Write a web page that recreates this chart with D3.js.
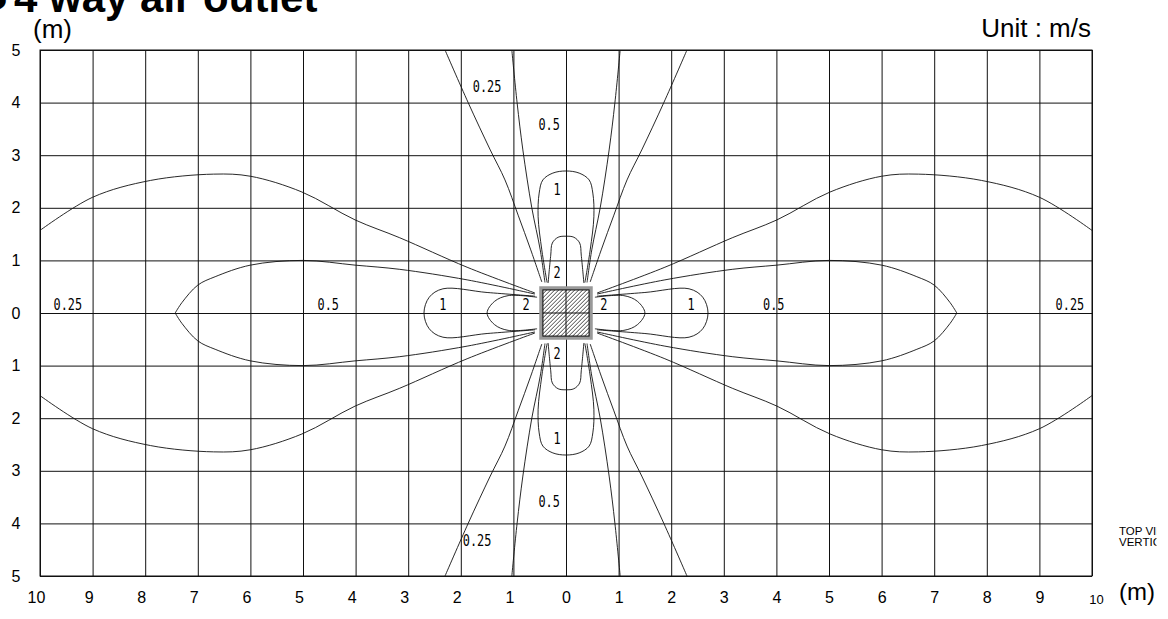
<!DOCTYPE html>
<html>
<head>
<meta charset="utf-8">
<script src="https://cdn.jsdelivr.net/npm/d3@7"></script>
<style>
  body { margin: 0; background: #fff; }
  svg { display: block; }
  .lbl { font-family: "DejaVu Sans Mono", monospace; font-size: 16.5px; fill: #000; }
</style>
</head>
<body>
<div id="chart"></div>
<script>
// grid ticks (metres from the unit)
const xTicks = [-10, -9, -8, -7, -6, -5, -4, -3, -2, -1, 0, 1, 2, 3, 4, 5, 6, 7, 8, 9, 10];
const yTicks = [-5, -4, -3, -2, -1, 0, 1, 2, 3, 4, 5];

// contour halves, upper-left quadrant, [x m, y m], mirrored for the other quadrants
// horizontal lobes: from box side outwards to the tip
const h2 = [[-0.55, 0.30], [-1.1, 0.33], [-1.36, 0.22], [-1.5, 0]];
const h1 = [[-0.59, 0.32], [-1.5, 0.39], [-2.34, 0.46], [-2.6, 0.30], [-2.7, 0]];
const h05 = [[-0.59, 0.36], [-1.88, 0.63], [-3.16, 0.83], [-4.01, 0.91], [-5.0, 1.0], [-6.0, 0.91], [-6.67, 0.69], [-7.0, 0.53], [-7.3, 0.2], [-7.43, 0]];
const h025 = [[-0.59, 0.38], [-1.88, 0.87], [-3.16, 1.43], [-4.01, 1.77], [-5.02, 2.30], [-6.0, 2.6], [-6.7, 2.64], [-7.9, 2.52], [-9.0, 2.2], [-10, 1.57]];
// vertical lobes: from box top upwards
const v2 = [[-0.34, 0.57], [-0.29, 1.1], [-0.26, 1.33], [-0.15, 1.44], [0, 1.46]];
const v1 = [[-0.36, 0.58], [-0.46, 1.2], [-0.53, 1.83], [-0.51, 2.28], [-0.44, 2.53], [-0.25, 2.66], [0, 2.70]];
const v05 = [[-0.40, 0.58], [-0.49, 1.2], [-0.65, 2.0], [-0.82, 3.1], [-0.93, 4.0], [-1.03, 5.0]];
const v025 = [[-0.46, 0.59], [-0.67, 1.2], [-0.91, 1.86], [-1.16, 2.53], [-1.44, 3.1], [-1.86, 4.0], [-2.30, 5.0]];

// velocity labels
const labels = [
  { t: "0.25", x: -1.50, y: 4.32 }, { t: "0.5", x: -0.32, y: 3.59 },
  { t: "1", x: -0.17, y: 2.36 }, { t: "2", x: -0.17, y: 0.78 },
  { t: "2", x: -0.17, y: -0.76 }, { t: "1", x: -0.17, y: -2.38 },
  { t: "0.5", x: -0.32, y: -3.57 }, { t: "0.25", x: -1.69, y: -4.32 },
  { t: "0.25", x: -9.47, y: 0.17 }, { t: "0.5", x: -4.52, y: 0.17 },
  { t: "1", x: -2.34, y: 0.17 }, { t: "2", x: -0.76, y: 0.17 },
  { t: "2", x: 0.72, y: 0.17 }, { t: "1", x: 2.38, y: 0.17 },
  { t: "0.5", x: 3.95, y: 0.17 }, { t: "0.25", x: 9.58, y: 0.17 }
];
const boxHalf = 0.48, boxInner = 0.44;

const W = 1168, H = 619;
const FONT = "Liberation Sans, Arial, sans-serif";
const svg = d3.select("#chart").append("svg").attr("width", W).attr("height", H);

const x = d3.scaleLinear().domain([-10, 10]).range([40, 1092]);
const y = d3.scaleLinear().domain([-5, 5]).range([576, 50]);

// title, cut by the top edge
svg.append("text").attr("x", -15).attr("y", 12)
  .style("font-family", FONT).style("font-weight", "bold").style("font-size", "40px")
  .text("\u25CF");
svg.append("text").attr("x", 14).attr("y", 12)
  .style("font-family", FONT).style("font-weight", "bold").style("font-size", "42px")
  .text("4 way air outlet");

svg.append("text").attr("x", 33).attr("y", 38)
  .style("font-family", FONT).style("font-size", "26px").text("(m)");
svg.append("text").attr("x", 1091).attr("y", 37).attr("text-anchor", "end")
  .style("font-family", FONT).style("font-size", "26px").text("Unit : m/s");
svg.append("text").attr("x", 1119).attr("y", 600)
  .style("font-family", FONT).style("font-size", "24px").text("(m)");

svg.append("clipPath").attr("id", "sideclip").append("rect").attr("x", 1100).attr("y", 500).attr("width", 56.5).attr("height", 80);
const side = svg.append("g").attr("clip-path", "url(#sideclip)")
  .style("font-family", FONT).style("font-size", "11.5px");
side.append("text").attr("x", 1119).attr("y", 535).text("TOP VIEW");
side.append("text").attr("x", 1119).attr("y", 546).text("VERTICAL");

// grid via axes
const gx = svg.append("g").attr("transform", `translate(0,${y(-5)})`)
  .call(d3.axisBottom(x).tickValues(xTicks).tickSize(-(y(-5) - y(5))).tickPadding(16)
    .tickFormat(d => Math.abs(d)));
const gy = svg.append("g").attr("transform", `translate(${x(-10)},0)`)
  .call(d3.axisLeft(y).tickValues(yTicks).tickSize(-(x(10) - x(-10))).tickPadding(24)
    .tickFormat(d => Math.abs(d)));
[gx, gy].forEach(g => {
  g.select(".domain").remove();
  g.selectAll(".tick line").attr("stroke", "#111").attr("stroke-width", 1);
  g.selectAll(".tick text").style("font-family", FONT).style("font-size", "16px").attr("fill", "#000");
});
gy.selectAll(".tick text").attr("text-anchor", "middle");
gx.selectAll(".tick text").attr("dx", d => d < 0 ? -4 : 0);
gx.selectAll(".tick text").filter(d => d === 10).style("font-size", "13px").attr("dx", 4).attr("dy", "0.95em");

svg.append("rect").attr("x", x(-10)).attr("y", y(5))
  .attr("width", x(10) - x(-10)).attr("height", y(-5) - y(5))
  .attr("fill", "none").attr("stroke", "#111").attr("stroke-width", 1);

// contours
const curve = d3.line().x(d => x(d[0])).y(d => y(d[1])).curve(d3.curveCatmullRom.alpha(0.5));
const fx = pts => pts.map(p => [-p[0], p[1]]);
const fy = pts => pts.map(p => [p[0], -p[1]]);
const flip4 = pts => [pts, fx(pts), fy(pts), fx(fy(pts))];
const hLoop = pts => pts.concat(fy(pts).reverse().slice(1));
const vLoop = pts => pts.concat(fx(pts).reverse().slice(1));

const paths = [];
flip4(h025).forEach(p => paths.push(p));
flip4(h05).forEach(p => paths.push(p));
flip4(v025).forEach(p => paths.push(p));
flip4(v05).forEach(p => paths.push(p));
[h1, h2].forEach(h => { paths.push(hLoop(h)); paths.push(fx(hLoop(h))); });
[v1, v2].forEach(v => { paths.push(vLoop(v)); paths.push(fy(vLoop(v))); });

svg.append("g").selectAll("path").data(paths).enter().append("path")
  .attr("d", curve).attr("fill", "none").attr("stroke", "#111").attr("stroke-width", 0.9);

// unit box
const bx0 = x(-boxHalf), bx1 = x(boxHalf), by0 = y(boxHalf), by1 = y(-boxHalf);
svg.append("rect").attr("x", bx0).attr("y", by0).attr("width", bx1 - bx0).attr("height", by1 - by0)
  .attr("fill", "#fff").attr("stroke", "#999").attr("stroke-width", 3);
const ix0 = x(-boxInner), ix1 = x(boxInner), iy0 = y(boxInner), iy1 = y(-boxInner);
svg.append("clipPath").attr("id", "boxclip").append("rect")
  .attr("x", ix0).attr("y", iy0).attr("width", ix1 - ix0).attr("height", iy1 - iy0);
const hatch = svg.append("g").attr("clip-path", "url(#boxclip)");
const side2 = iy1 - iy0;
d3.range(ix0 - side2, ix1, 4).forEach(k => {
  hatch.append("line").attr("x1", k).attr("y1", iy1).attr("x2", k + side2).attr("y2", iy0)
    .attr("stroke", "#111").attr("stroke-width", 0.8);
});
svg.append("line").attr("x1", x(0)).attr("x2", x(0)).attr("y1", iy0).attr("y2", iy1).attr("stroke", "#111");
svg.append("line").attr("x1", ix0).attr("x2", ix1).attr("y1", y(0)).attr("y2", y(0)).attr("stroke", "#111");
svg.append("rect").attr("x", ix0).attr("y", iy0).attr("width", ix1 - ix0).attr("height", iy1 - iy0)
  .attr("fill", "none").attr("stroke", "#111").attr("stroke-width", 1.2);

// labels
svg.append("g").selectAll("text").data(labels).enter().append("text")
  .attr("class", "lbl")
  .attr("transform", d => `translate(${x(d.x)},${y(d.y)}) scale(0.72,1)`)
  .attr("text-anchor", "middle").attr("dominant-baseline", "central")
  .text(d => d.t);
</script>
</body>
</html>
